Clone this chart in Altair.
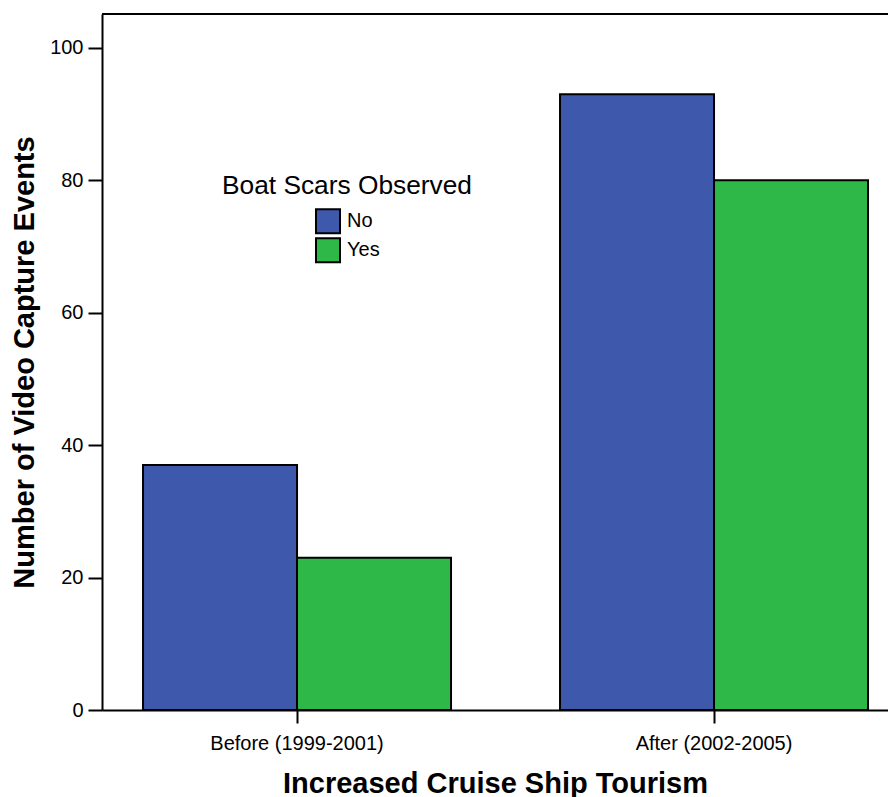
import altair as alt
import pandas as pd

periods = ["Before (1999-2001)", "Before (1999-2001)", "After (2002-2005)", "After (2002-2005)"]
scars = ["No", "Yes", "No", "Yes"]
counts = [37, 23, 93, 80]
period_order = ["Before (1999-2001)", "After (2002-2005)"]
scar_order = ["No", "Yes"]
colors = ["#3E58AC", "#2EB848"]
y_ticks = [0, 20, 40, 60, 80, 100]

df = pd.DataFrame({"period": periods, "scars": scars, "count": counts})

W, H = 786, 696
FONT = "Liberation Sans"

bars = alt.Chart(df).mark_bar(stroke="black", strokeWidth=2, opacity=1).encode(
    x=alt.X("period:N", sort=period_order,
            scale=alt.Scale(paddingInner=0.2614, paddingOuter=0.07315, align=0.6725),
            axis=alt.Axis(title="Increased Cruise Ship Tourism", labelAngle=0,
                          labelFontSize=20, labelColor="black", labelPadding=10,
                          tickSize=13, tickWidth=2, tickColor="black",
                          domainColor="black", domainWidth=2,
                          titleFontSize=29, titleFontWeight="bold", titleColor="black",
                          titleY=82, titleBaseline="alphabetic")),
    xOffset=alt.XOffset("scars:N", sort=scar_order, scale=alt.Scale(paddingInner=0, paddingOuter=0)),
    y=alt.Y("count:Q", scale=alt.Scale(domain=[0, 105.1], nice=False, zero=True),
            axis=alt.Axis(title="Number of Video Capture Events", values=y_ticks, grid=False,
                          labelFontSize=20, labelColor="black", labelPadding=5,
                          tickSize=14, tickWidth=2, tickColor="black",
                          domainColor="black", domainWidth=2,
                          titleFontSize=29, titleFontWeight="bold", titleColor="black",
                          titleX=-69, titleBaseline="alphabetic")),
    color=alt.Color("scars:N", sort=scar_order,
                    scale=alt.Scale(domain=scar_order, range=colors),
                    legend=alt.Legend(title="Boat Scars Observed", orient="none",
                                      legendX=120, legendY=159, padding=0,
                                      titleFontSize=26.3, titleFontWeight="normal", titleColor="black",
                                      titleAnchor="middle", titleAlign="center", titlePadding=9,
                                      titleLimit=500,
                                      labelFontSize=20, labelColor="black", labelOffset=6,
                                      symbolType="square", symbolSize=576,
                                      symbolStrokeColor="black", symbolStrokeWidth=2,
                                      symbolOpacity=1, rowPadding=-3)),
)

top_rule = alt.Chart(df).mark_rule(color="black", strokeWidth=2).encode(
    x=alt.value(0), x2=alt.value(W), y=alt.value(0)
)

chart = alt.layer(bars, top_rule).properties(
    width=W, height=H,
    autosize=alt.AutoSizeParams(type="none"),
    padding={"left": 94, "top": 6, "right": 0, "bottom": 87},
).configure_view(stroke=None, fill="#EFEFEF").configure(font=FONT, background="white")

chart.save("out.html", embed_options={"renderer": "svg", "actions": False})
